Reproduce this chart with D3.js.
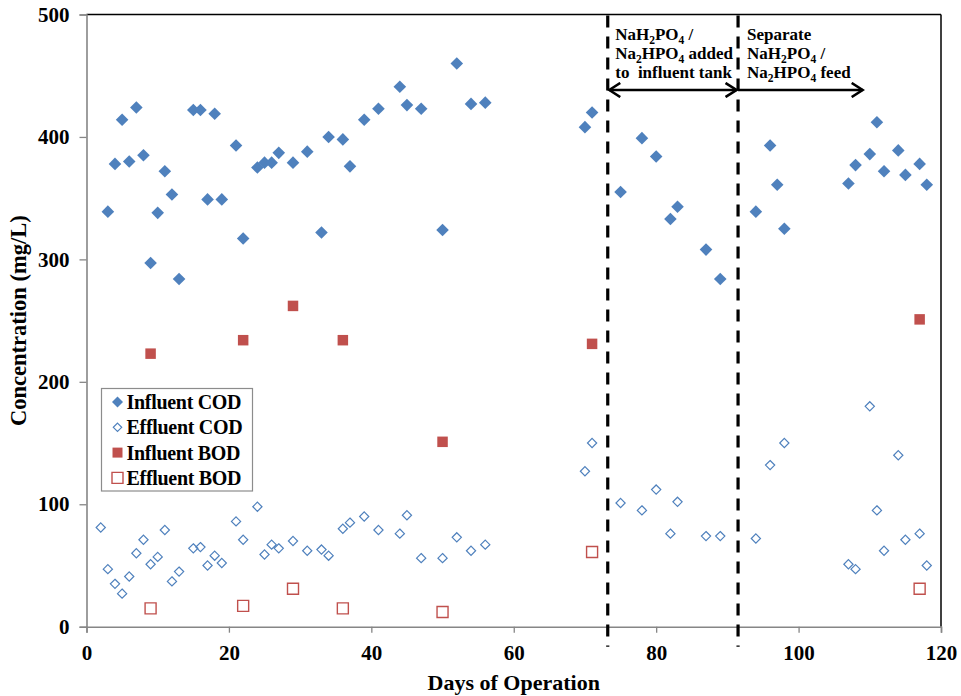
<!DOCTYPE html>
<html>
<head>
<meta charset="utf-8">
<script src="https://cdn.jsdelivr.net/npm/d3@7"></script>
<style>
  html, body { margin: 0; padding: 0; background: #fff; }
  svg { display: block; font-family: "Liberation Serif", "Times New Roman", serif; font-weight: bold; }
</style>
</head>
<body>
<svg id="chart" width="961" height="696"></svg>
<script>
// Influent / effluent COD, sampled by day of operation
const codDaysIn = [3,4,5,6,7,8,9,10,11,12,13,15,16,17,18,19,21,22,24,25,26,27,29,31,33,34,36,37,39,41,44,45,47,50,52,54,56,70,71,75,78,80,82,83,87,89,94,96,97,98,107,108,110,111,112,114,115,117,118];
const influentCOD = [339,378,414,380,424,385,297,338,372,353,284,422,422,349,419,349,393,317,375,379,379,387,379,388,322,400,398,376,414,423,441,426,423,324,460,427,428,408,420,355,399,384,333,343,308,284,339,393,361,325,362,377,386,412,372,389,369,378,361];

const codDaysEff = [2,3,4,5,6,7,8,9,10,11,12,13,15,16,17,18,19,21,22,24,25,26,27,29,31,33,34,36,37,39,41,44,45,47,50,52,54,56,70,71,75,78,80,82,83,87,89,94,96,98,107,108,110,111,112,114,115,117,118];
const effluentCOD = [81,47,35,27,41,60,71,51,57,79,37,45,64,65,50,58,52,86,71,98,59,67,64,70,62,63,58,80,85,90,79,76,91,56,56,73,62,67,127,150,101,95,112,76,102,74,74,72,132,150,51,47,180,95,62,140,71,76,50];

// BOD, sampled less often
const bodDays = [9,22,29,36,50,71,117];
const influentBOD = [223,234,262,234,151,231,251];
const effluentBOD = [15,17,31,15,12,61,31];

// Phase boundaries (day) and the end of the second phase arrow
const phaseLines = [73.2, 91.5];
const phaseArrowEnd = 109;

const xTicks = [0,20,40,60,80,100,120];
const yTicks = [0,100,200,300,400,500];

const legendLabels = ["Influent COD","Effluent COD","Influent BOD","Effluent BOD"];

// Phase notes: each line is a list of plain runs and {sub} subscripts
const phaseNotes = [
  [["NaH", {sub:"2"}, "PO", {sub:"4"}, " /"],
   ["Na", {sub:"2"}, "HPO", {sub:"4"}, " added"],
   ["to  influent tank"]],
  [["Separate"],
   ["NaH", {sub:"2"}, "PO", {sub:"4"}, " /"],
   ["Na", {sub:"2"}, "HPO", {sub:"4"}, " feed"]]
];

const BLUE = "#4F81BD", RED = "#C0504D";

const W = 961, H = 696;
const margin = {left: 86.5, right: 20, top: 14.5, bottom: 69.3};
const svg = d3.select("#chart");

const x = d3.scaleLinear().domain([0,120]).range([margin.left, W - margin.right]);
const y = d3.scaleLinear().domain([0,500]).range([H - margin.bottom, margin.top]);

// plot frame: black top/right, grey axes
svg.append("line").attr("x1", x(0)).attr("x2", x(120)).attr("y1", y(500)).attr("y2", y(500))
  .attr("stroke", "#000").attr("stroke-width", 1.5);
svg.append("line").attr("x1", x(120)).attr("x2", x(120)).attr("y1", y(500)).attr("y2", y(0))
  .attr("stroke", "#000").attr("stroke-width", 1.5);

const xAxis = svg.append("g").attr("transform", `translate(0,${y(0)})`)
  .call(d3.axisBottom(x).tickValues(xTicks).tickSize(6).tickPadding(12).tickFormat(d3.format("d")));
const yAxis = svg.append("g").attr("transform", `translate(${x(0)},0)`)
  .call(d3.axisLeft(y).tickValues(yTicks).tickSize(7).tickPadding(10).tickFormat(d3.format("d")));
[xAxis, yAxis].forEach(g => {
  g.select(".domain").attr("stroke", "#868686").attr("stroke-width", 1.6);
  g.selectAll(".tick line").attr("stroke", "#868686").attr("stroke-width", 1.3);
  g.selectAll(".tick text").attr("font-family", "Liberation Serif, serif")
    .attr("font-weight", "bold").attr("font-size", 21).attr("fill", "#000");
});
xAxis.selectAll(".tick text").attr("dy", "0.71em");

// axis titles
svg.append("text").attr("x", (x(0) + x(120)) / 2).attr("y", 690)
  .attr("text-anchor", "middle").attr("font-size", 22).text("Days of Operation");
svg.append("text").attr("transform", `translate(26,${(y(0)+y(500))/2}) rotate(-90)`)
  .attr("text-anchor", "middle").attr("font-size", 22.5).text("Concentration (mg/L)");

// phase boundaries
svg.selectAll(".phase").data(phaseLines).join("line")
  .attr("x1", d => x(d)).attr("x2", d => x(d))
  .attr("y1", y(500) + 1).attr("y2", y(0) + 20)
  .attr("stroke", "#000").attr("stroke-width", 3.2).attr("stroke-dasharray", "12,9");

// arrows marking the phases
const defs = svg.append("defs");
defs.append("marker").attr("id", "head").attr("viewBox", "-12 -8 14 16")
  .attr("refX", 0).attr("refY", 0).attr("markerWidth", 14).attr("markerHeight", 16)
  .attr("markerUnits", "userSpaceOnUse").attr("orient", "auto-start-reverse")
  .append("path").attr("d", "M-11,-7 L0,0 L-11,7").attr("fill", "none")
  .attr("stroke", "#000").attr("stroke-width", 2.6);

const arrowY = 90;
svg.append("line").attr("x1", x(phaseLines[0]) + 1.5).attr("x2", x(phaseLines[1]) - 1.5)
  .attr("y1", arrowY).attr("y2", arrowY).attr("stroke", "#000").attr("stroke-width", 2.6)
  .attr("marker-start", "url(#head)").attr("marker-end", "url(#head)");
svg.append("line").attr("x1", x(phaseLines[1])).attr("x2", x(phaseArrowEnd))
  .attr("y1", arrowY).attr("y2", arrowY).attr("stroke", "#000").attr("stroke-width", 2.6)
  .attr("marker-end", "url(#head)");

// phase notes: one text block per phase, lines as tspans
const noteX = [x(phaseLines[0]) + 7.5, x(phaseLines[1]) + 9];
phaseNotes.forEach((lines, k) => {
  const t = svg.append("text").attr("x", noteX[k]).attr("y", 40)
    .attr("font-size", 17).attr("xml:space", "preserve");
  lines.forEach((segs, li) => {
    let first = true, shifted = 0;
    segs.forEach(s => {
      const isSub = typeof s !== "string";
      const sp = t.append("tspan").text(isSub ? s.sub : s);
      let dy = 0;
      if (first) { sp.attr("x", noteX[k]); dy = li === 0 ? 0 : 19.2; first = false; }
      if (isSub) { sp.attr("font-size", 11.5); dy += 3.5 - shifted; shifted = 3.5; }
      else { dy -= shifted; shifted = 0; }
      if (dy) sp.attr("dy", dy);
    });
    // return to the line's baseline before the next line
    if (shifted) t.append("tspan").attr("dy", -shifted).text("");
  });
});

// marker shapes
const diamond = r => `M0,${-r}L${r},0L0,${r}L${-r},0Z`;
const square = s => `M${-s/2},${-s/2}h${s}v${s}h${-s}Z`;

const series = [
  {days: codDaysIn, vals: influentCOD, d: diamond(6.3), fill: BLUE, stroke: "none", sw: 0},
  {days: codDaysEff, vals: effluentCOD, d: diamond(4.6), fill: "none", stroke: BLUE, sw: 1.2},
  {days: bodDays, vals: influentBOD, d: square(10.5), fill: RED, stroke: "none", sw: 0},
  {days: bodDays, vals: effluentBOD, d: square(11), fill: "none", stroke: RED, sw: 1.4}
];
series.forEach(s => {
  svg.append("g").selectAll("path").data(s.days.map((d, i) => [d, s.vals[i]])).join("path")
    .attr("transform", d => `translate(${x(d[0])},${y(d[1])})`)
    .attr("d", s.d).attr("fill", s.fill).attr("stroke", s.stroke).attr("stroke-width", s.sw);
});

// legend
const lg = svg.append("g").attr("transform", "translate(101.5,388.5)");
lg.append("rect").attr("width", 151).attr("height", 102.5).attr("fill", "#fff")
  .attr("stroke", "#8c8c8c").attr("stroke-width", 1.2);
legendLabels.forEach((lab, i) => {
  const row = lg.append("g").attr("transform", `translate(0,${13.5 + i * 25.3})`);
  const s = series[i];
  row.append("path").attr("transform", "translate(16,0)")
    .attr("d", i === 0 ? diamond(5.5) : i === 1 ? diamond(4.2) : square(i === 2 ? 10 : 11))
    .attr("fill", s.fill).attr("stroke", s.stroke).attr("stroke-width", s.sw);
  row.append("text").attr("x", 25).attr("y", 0).attr("dy", "0.35em")
    .attr("font-size", 20).attr("letter-spacing", -0.3).text(lab);
});
</script>
</body>
</html>
